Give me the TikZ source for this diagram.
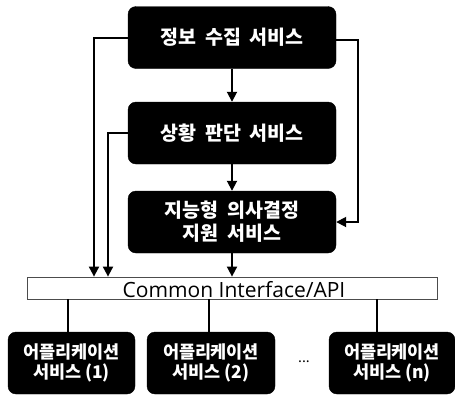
\documentclass[tikz,border=0pt]{standalone}
\usepackage{fontspec}
\setmainfont{Noto Sans CJK KR}
\newfontfamily\svcfont{Noto Sans CJK KR Black}[WordSpace=1.9]
\newfontfamily\appfont{Noto Sans CJK KR Black}[LetterSpace=-1]
\newfontfamily\latinfont{Open Sans}
\usetikzlibrary{arrows.meta}
\tikzset{
  svcbox/.style={fill=black, draw=black, rounded corners=8pt, text=white,
    align=center, inner sep=0pt, minimum width=208pt, minimum height=62pt,
    font=\svcfont\fontsize{19.5}{23}\selectfont},
  appbox/.style={fill=black, draw=black, rounded corners=8pt, text=white,
    align=center, inner sep=0pt, minimum width=127pt, minimum height=62pt,
    font=\appfont\fontsize{17.5}{20.5}\selectfont},
  busbar/.style={draw=black!70, line width=0.8pt, fill=white, inner sep=0pt,
    minimum width=410pt, minimum height=22pt},
  link/.style={line width=1.8pt},
  flow/.style={link, -{Triangle[length=10pt,width=10pt]}}
}
\begin{document}
\begin{tikzpicture}[x=1pt,y=-1pt]
\useasboundingbox (0,0) rectangle (455,397);

% service chain
\node[svcbox] (collect) at (232,37.5) {정보 수집 서비스};
\node[svcbox] (judge)   at (232,133)  {상황 판단 서비스};
\node[svcbox] (decide)  at (232,222)  {지능형 의사결정\\지원 서비스};

% common interface bar
\node[busbar] (api) at (232,288) {};
\node[font=\latinfont\fontsize{21}{22}\selectfont, anchor=base] (apilabel) at (234,297.5) {Common Interface/API};

% application services
\node[appbox] (app1) at (71.5,363) {어플리케이션\\서비스 (1)};
\node[appbox, minimum width=128pt] (app2) at (211,363) {어플리케이션\\서비스 (2)};
\node[appbox, minimum width=126pt] (appn) at (392,363) {어플리케이션\\서비스 (n)};
\node (dots) at (304,362) {\fontsize{14}{14}\selectfont ...};

% vertical flow
\draw[flow] (collect) -- (judge);
\draw[flow] (judge) -- (decide);
\draw[flow] (decide) -- (api);

% bypass links to the interface
\coordinate (c1) at (94,0);
\coordinate (c2) at (108,0);
\coordinate (c3) at (358,0);
\draw[flow] (collect.west |- 0,38) -| (api.north -| c1);
\draw[flow] (judge.west |- 0,133) -| (api.north -| c2);
\draw[flow] (collect.east |- 0,40) -| (c3 |- 0,222) -- (decide.east |- 0,222);

% bus to applications
\draw[link] (api.south -| 68,0) -- (app1.north -| 68,0);
\draw[link] (api.south -| 209,0) -- (app2.north -| 209,0);
\draw[link] (api.south -| 377,0) -- (appn.north -| 377,0);
\end{tikzpicture}
\end{document}
